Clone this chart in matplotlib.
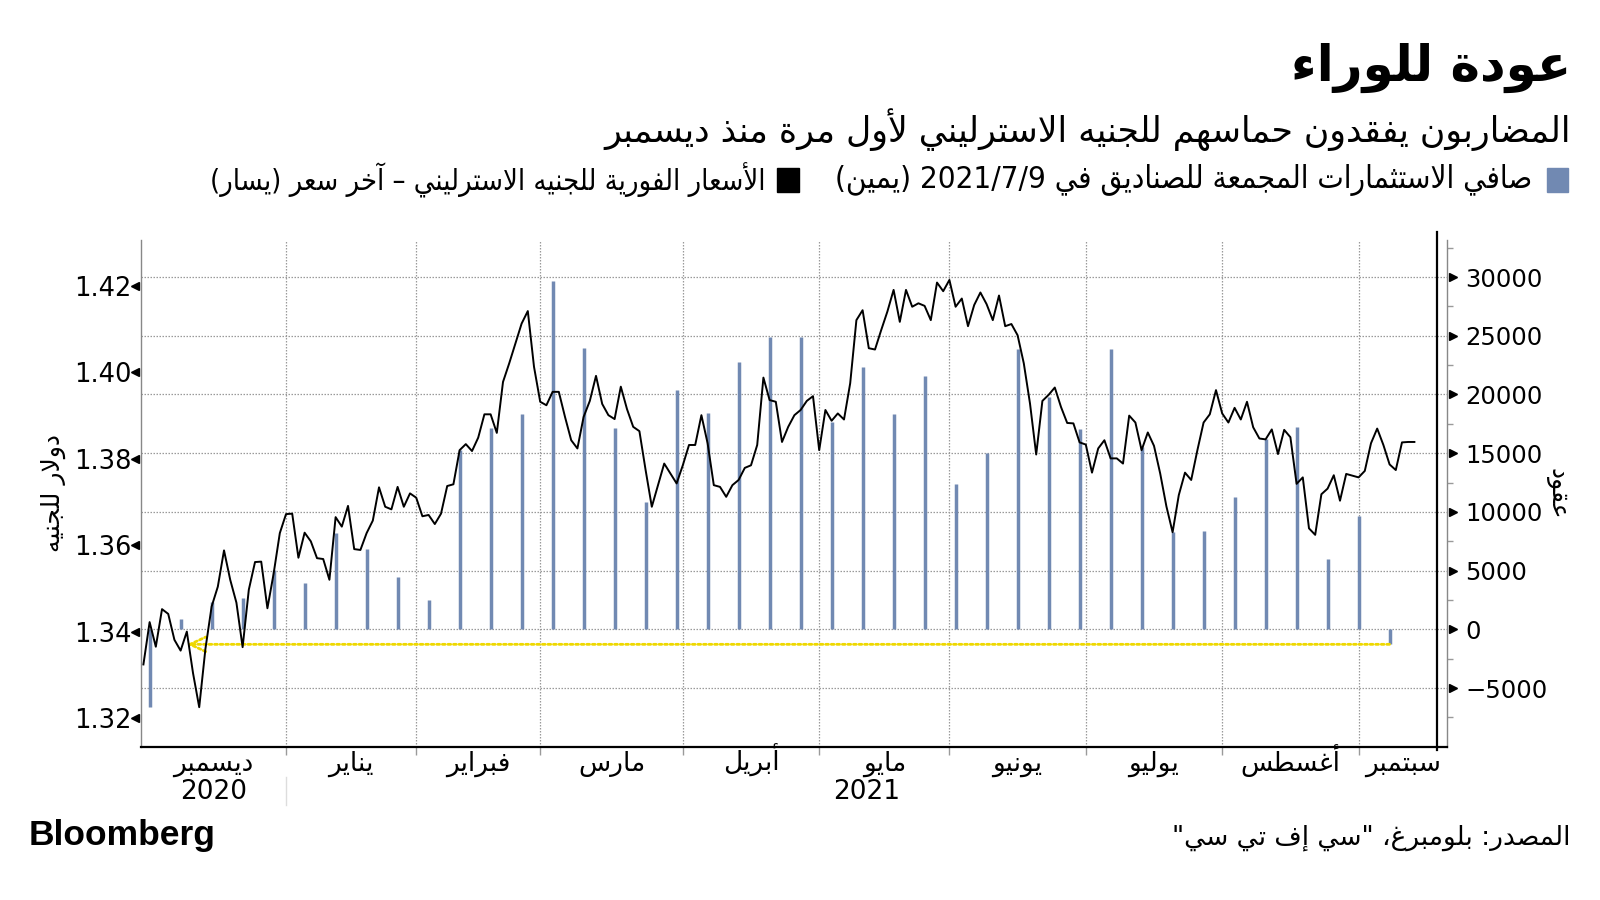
import re
import numpy as np
import pandas as pd
import matplotlib
matplotlib.use("Agg")
import matplotlib.pyplot as plt
from matplotlib.lines import Line2D
from matplotlib.patches import Rectangle

# --- Arabic shaping (matplotlib has no complex text layout) ---
FORMS = {
    'ء': (0xFE80, 1), 'آ': (0xFE81, 2), 'أ': (0xFE83, 2), 'ؤ': (0xFE85, 2), 'إ': (0xFE87, 2),
    'ئ': (0xFE89, 4), 'ا': (0xFE8D, 2), 'ب': (0xFE8F, 4), 'ة': (0xFE93, 2), 'ت': (0xFE95, 4),
    'ث': (0xFE99, 4), 'ج': (0xFE9D, 4), 'ح': (0xFEA1, 4), 'خ': (0xFEA5, 4), 'د': (0xFEA9, 2),
    'ذ': (0xFEAB, 2), 'ر': (0xFEAD, 2), 'ز': (0xFEAF, 2), 'س': (0xFEB1, 4), 'ش': (0xFEB5, 4),
    'ص': (0xFEB9, 4), 'ض': (0xFEBD, 4), 'ط': (0xFEC1, 4), 'ظ': (0xFEC5, 4), 'ع': (0xFEC9, 4),
    'غ': (0xFECD, 4), 'ف': (0xFED1, 4), 'ق': (0xFED5, 4), 'ك': (0xFED9, 4), 'ل': (0xFEDD, 4),
    'م': (0xFEE1, 4), 'ن': (0xFEE5, 4), 'ه': (0xFEE9, 4), 'و': (0xFEED, 2), 'ى': (0xFEEF, 2),
    'ي': (0xFEF1, 4),
}
LAM_ALEF = {'ا': 0xFEFB, 'أ': 0xFEF7, 'إ': 0xFEF9, 'آ': 0xFEF5}


def shape(s):
    out, i, prev = [], 0, False
    while i < len(s):
        c = s[i]
        if c not in FORMS:
            out.append(c)
            prev = False
            i += 1
            continue
        base, kind = FORMS[c]
        if c == 'ل' and i + 1 < len(s) and s[i + 1] in LAM_ALEF:
            out.append(chr(LAM_ALEF[s[i + 1]] + (1 if prev else 0)))
            prev = False
            i += 2
            continue
        nxt = i + 1 < len(s) and s[i + 1] in FORMS and FORMS[s[i + 1]][1] > 1
        if kind == 1:
            out.append(chr(base))
            prev = False
        elif kind == 2:
            out.append(chr(base + (1 if prev else 0)))
            prev = False
        else:
            if prev and nxt:
                code = base + 3
            elif prev:
                code = base + 1
            elif nxt:
                code = base + 2
            else:
                code = base
            out.append(chr(code))
            prev = nxt
        i += 1
    return ''.join(out)


def ar(s):
    s = shape(s)
    runs = re.findall(r'[0-9A-Za-z/.]+|[^0-9A-Za-z/.]+', s)
    mirror = str.maketrans('()', ')(')
    out = []
    for r in reversed(runs):
        if r[0].isascii() and r[0].isalnum():
            out.append(r)
        else:
            out.append(r[::-1].translate(mirror))
    return ''.join(out)


# --- data ---
start = '2020-12-01'
gbp_usd = [
    1.3324, 1.3422, 1.3365, 1.3452, 1.3441, 1.3381, 1.3356, 1.3400, 1.3304, 1.3225,
    1.3360, 1.3458, 1.3504, 1.3588, 1.3520, 1.3467, 1.3364, 1.3497, 1.3561, 1.3562,
    1.3454, 1.3534, 1.3628, 1.3672, 1.3673, 1.3571, 1.3629, 1.3609, 1.3570, 1.3568,
    1.3520, 1.3665, 1.3643, 1.3691, 1.3591, 1.3589, 1.3628, 1.3657, 1.3734, 1.3689,
    1.3683, 1.3735, 1.3689, 1.3720, 1.3710, 1.3667, 1.3670, 1.3649, 1.3673, 1.3737,
    1.3741, 1.3820, 1.3834, 1.3818, 1.3849, 1.3903, 1.3903, 1.3860, 1.3978, 1.4021,
    1.4067, 1.4113, 1.4142, 1.4013, 1.3932, 1.3924, 1.3955, 1.3955, 1.3897, 1.3843,
    1.3824, 1.3897, 1.3934, 1.3992, 1.3927, 1.3901, 1.3892, 1.3967, 1.3915, 1.3874,
    1.3864, 1.3774, 1.3689, 1.3739, 1.3789, 1.3766, 1.3743, 1.3785, 1.3832, 1.3832,
    1.3901, 1.3836, 1.3739, 1.3735, 1.3712, 1.3739, 1.3751, 1.3779, 1.3785, 1.3832,
    1.3988, 1.3936, 1.3932, 1.3839, 1.3874, 1.3901, 1.3913, 1.3934, 1.3945, 1.3820,
    1.3913, 1.3888, 1.3905, 1.3891, 1.3975, 1.4121, 1.4144, 1.4056, 1.4053, 1.4098,
    1.4141, 1.4191, 1.4117, 1.4191, 1.4152, 1.4160, 1.4154, 1.4121, 1.4208, 1.4188,
    1.4214, 1.4152, 1.4171, 1.4107, 1.4156, 1.4185, 1.4158, 1.4121, 1.4178, 1.4107,
    1.4112, 1.4086, 1.4021, 1.3928, 1.3810, 1.3934, 1.3948, 1.3965, 1.3920, 1.3883,
    1.3882, 1.3838, 1.3833, 1.3768, 1.3824, 1.3843, 1.3801, 1.3801, 1.3789, 1.3900,
    1.3884, 1.3820, 1.3861, 1.3830, 1.3766, 1.3690, 1.3630, 1.3716, 1.3768, 1.3751,
    1.3820, 1.3884, 1.3903, 1.3959, 1.3905, 1.3884, 1.3918, 1.3891, 1.3932, 1.3873,
    1.3847, 1.3845, 1.3868, 1.3811, 1.3867, 1.3850, 1.3742, 1.3757, 1.3639, 1.3624,
    1.3718, 1.3731, 1.3762, 1.3703, 1.3765, 1.3761, 1.3757, 1.3772, 1.3836, 1.3870,
    1.3832, 1.3787, 1.3774, 1.3838, 1.3839, 1.3839,
]
net_contracts = [
    -6600, 850, 2300, 2670, 5030, 3920, 8210, 6820, 4460, 2470,
    15250, 17100, 18300, 29670, 23930, 17100, 10800, 20360, 18400, 22740,
    24870, 24870, 17630, 22300, 18300, 21550, 12350, 15000, 23850, 19760,
    17040, 23850, 15500, 8300, 8350, 11250, 16200, 17200, 5960, 9630,
    -1280,
]
price_dates = pd.bdate_range(start, periods=len(gbp_usd))
cot_dates = pd.date_range('2020-12-02', periods=len(net_contracts), freq='7D')
months = ['ديسمبر', 'يناير', 'فبراير', 'مارس', 'أبريل', 'مايو', 'يونيو', 'يوليو', 'أغسطس', 'سبتمبر']
month_starts = pd.date_range('2021-01-01', '2021-09-01', freq='MS')
arrow_from = '2020-12-10'


def bday(d):
    return np.busday_count(np.datetime64(start, 'D'), np.array(d, dtype='datetime64[D]'))


px = bday(price_dates.values)
bx = bday(cot_dates.values)
mx = bday(month_starts.values)

BLUE = '#7189b2'
GRID = '#9a9a9a'
plt.rcParams['font.family'] = ['DejaVu Sans']

fig = plt.figure(figsize=(16, 9), dpi=100)
ax = fig.add_axes([141 / 1600, 153 / 900, 1306 / 1600, 507 / 900])
ax2 = ax.twinx()
x0, x1 = -0.39, 210.26
ax.set_xlim(x0, x1)

# bars on the right-hand axis (contracts)
ax.vlines(bx, 0, net_contracts, color=BLUE, lw=2.5, zorder=3)
ax.set_ylim(-10023, 33152)
ax.yaxis.tick_right()
ax.yaxis.set_label_position('right')
ax.set_yticks(np.arange(-5000, 30001, 5000))
ax.set_yticks(np.arange(-7500, 32501, 2500), minor=True)
ax.tick_params(axis='y', which='major', length=0, pad=13, labelsize=17.5)
ax.tick_params(axis='y', which='minor', length=4, width=1, color=GRID)
ax.set_ylabel(ar('عقود'), rotation=270, fontsize=18, ha='center', va='center')
ax.yaxis.set_label_coords(1.0835, 0.5)
ax.grid(axis='y', which='major', color=GRID, lw=0.9, ls=(0, (1.2, 1.2)))
for v in ax.get_yticks():
    ax.plot([1.0045], [v], marker='>', ms=6, color='black',
            transform=ax.get_yaxis_transform(), clip_on=False)

# month boundaries and labels
ax.set_xticks(mx)
ax.set_xticklabels([])
ax.tick_params(axis='x', which='major', length=6, width=1, color=GRID)
edges = [x0] + list(mx) + [x1]
ax.set_xticks([(a + b) / 2 for a, b in zip(edges[:-1], edges[1:])], minor=True)
ax.set_xticklabels([ar(m) for m in months], minor=True, fontsize=19, va='baseline')
ax.tick_params(axis='x', which='minor', length=0, pad=17)
ax.grid(axis='x', which='major', color=GRID, lw=0.9, ls=(0, (1.2, 1.2)))
ax.text((x0 + mx[0]) / 2, -0.089, '2020', transform=ax.get_xaxis_transform(),
        ha='center', va='center', fontsize=19)
ax.text((mx[0] + x1) / 2, -0.089, '2021', transform=ax.get_xaxis_transform(),
        ha='center', va='center', fontsize=19)

for side in ['left', 'right']:
    ax.spines[side].set_color('#888888')
    ax.spines[side].set_linewidth(1)
ax.spines['top'].set_visible(False)
ax.spines['bottom'].set_color('black')
ax.spines['bottom'].set_linewidth(1.6)
ax.axvline(x0 + (x1 - x0) * 0.9923, ymin=-0.005, ymax=1.015, color='black', lw=1.6,
           clip_on=False, zorder=4)

# yellow arrow: latest positioning back to December
ax.annotate('', xy=(bday(arrow_from), net_contracts[-1]),
            xytext=(bx[-1], net_contracts[-1]),
            arrowprops=dict(arrowstyle='->,head_length=0.75,head_width=0.35',
                            mutation_scale=15, color='#eed800', lw=2, ls=(0, (1, 1)),
                            shrinkA=0, shrinkB=0), zorder=4)

# price line on the left-hand axis
ax2.plot(px, gbp_usd, color='black', lw=1.4, zorder=5)
ax2.set_ylim(1.31329, 1.43065)
ax2.yaxis.tick_left()
ax2.yaxis.set_label_position('left')
ax2.set_yticks([1.32, 1.34, 1.36, 1.38, 1.40, 1.42])
ax2.set_yticklabels(['1.32', '1.34', '1.36', '1.38', '1.40', '1.42'])
ax2.tick_params(axis='y', length=0, pad=7, labelsize=18.5)
ax2.set_ylabel(ar('دولار للجنيه'), fontsize=18, ha='center', va='center')
ax2.yaxis.set_label_coords(-0.0674, 0.5)
for sp in ax2.spines.values():
    sp.set_visible(False)
for v in ax2.get_yticks():
    ax2.plot([-0.0045], [v], marker='<', ms=6, color='black',
             transform=ax2.get_yaxis_transform(), clip_on=False)

# year separator under the axis
fig.add_artist(Line2D([286 / 1600] * 2, [1 - 777 / 900, 1 - 805 / 900], color='#dddddd', lw=1))

# titles and legend
fig.text(1571 / 1600, 1 - 68 / 900, ar('عودة للوراء'), ha='right', va='center',
         fontsize=36, fontweight='bold')
fig.text(1571 / 1600, 1 - 130 / 900, ar('المضاربون يفقدون حماسهم للجنيه الاسترليني لأول مرة منذ ديسمبر'),
         ha='right', va='center', fontsize=25)
fig.add_artist(Rectangle((1547 / 1600, 1 - 192 / 900), 21 / 1600, 24 / 900,
                         transform=fig.transFigure, color=BLUE))
fig.add_artist(Rectangle((777 / 1600, 1 - 192 / 900), 22 / 1600, 24 / 900,
                         transform=fig.transFigure, color='black'))
fig.text(1532 / 1600, 1 - 180 / 900, ar('صافي الاستثمارات المجمعة للصناديق في 2021/7/9 (يمين)'),
         ha='right', va='center', fontsize=22.5, fontstretch='condensed')
fig.text(766 / 1600, 1 - 180 / 900, ar('الأسعار الفورية للجنيه الاسترليني – آخر سعر (يسار)'),
         ha='right', va='center', fontsize=20.8, fontstretch='condensed')

fig.text(29 / 1600, 1 - 836 / 900, 'Bloomberg', ha='left', va='center', fontsize=25.5,
         fontweight='bold', family=['Liberation Sans', 'DejaVu Sans'])
fig.text(1571 / 1600, 1 - 838 / 900, ar('المصدر: بلومبرغ، "سي إف تي سي"'), ha='right',
         va='center', fontsize=19)

fig.savefig('out.png', dpi=100)
